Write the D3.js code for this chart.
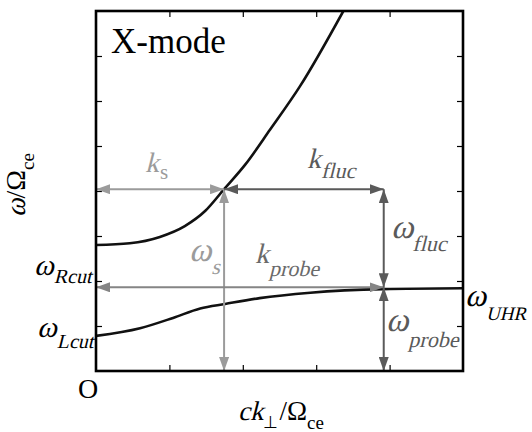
<!DOCTYPE html>
<html>
<head>
<meta charset="utf-8">
<script src="https://cdn.jsdelivr.net/npm/d3@7"></script>
<style>
  body { margin: 0; background: #fff; }
</style>
</head>
<body>
<div id="chart"></div>
<script>
const upperBranch = [[0, 2.80], [0.46, 2.84], [0.87, 2.98], [1.21, 3.22], [1.49, 3.56],
                     [1.745, 4.04], [2.03, 4.58], [2.37, 5.36], [2.78, 6.33], [3.37, 8.0]];
const lowerBranch = [[0, 0.78], [0.60, 0.95], [1.05, 1.18], [1.42, 1.39], [1.76, 1.49],
                     [2.23, 1.62], [2.92, 1.74], [3.91, 1.82], [5.0, 1.84]];
const xTicks = [1, 2, 3, 4];
const yTicks = [1, 2, 3, 4, 5, 6, 7];

// scattering point (k_s, ω_s) and probe point (k_probe, ω_probe)
const kS = 1.745, wS = 4.04;
const kProbe = 3.92, wProbe = 1.86;

const width = 532, height = 432;
const margin = {top: 11, right: 69, bottom: 61, left: 96};
const serif = '"Liberation Serif"';

const svg = d3.select("#chart")
    .append("svg")
    .attr("width", width)
    .attr("height", height);

const x = d3.scaleLinear().domain([0, 5]).range([margin.left, width - margin.right]);
const y = d3.scaleLinear().domain([0, 8]).range([height - margin.bottom, margin.top]);

// clip for the curves
svg.append("clipPath").attr("id", "plot")
    .append("rect")
    .attr("x", x(0)).attr("y", y(8))
    .attr("width", x(5) - x(0)).attr("height", y(0) - y(8));

// inward ticks on all four sides
const noDomain = g => g.select(".domain").remove();
svg.append("g").attr("transform", `translate(0,${y(0)})`)
    .call(d3.axisBottom(x).tickValues(xTicks).tickSize(-6).tickFormat("")).call(noDomain);
svg.append("g").attr("transform", `translate(0,${y(8)})`)
    .call(d3.axisTop(x).tickValues(xTicks).tickSize(-6).tickFormat("")).call(noDomain);
svg.append("g").attr("transform", `translate(${x(0)},0)`)
    .call(d3.axisLeft(y).tickValues(yTicks).tickSize(-6).tickFormat("")).call(noDomain);
svg.append("g").attr("transform", `translate(${x(5)},0)`)
    .call(d3.axisRight(y).tickValues(yTicks).tickSize(-6).tickFormat("")).call(noDomain);
svg.selectAll(".tick line").attr("stroke", "#000").attr("stroke-width", 1.2);

// curves
const line = d3.line()
    .x(d => x(d[0]))
    .y(d => y(d[1]))
    .curve(d3.curveMonotoneX);

svg.append("g").attr("clip-path", "url(#plot)")
    .selectAll("path")
    .data([upperBranch, lowerBranch])
    .join("path")
    .attr("d", line)
    .attr("fill", "none")
    .attr("stroke", "#111")
    .attr("stroke-width", 2.6);

// arrows
const arrows = [
    {from: [0, wS], to: [kS, wS], color: "#9b9b9b"},          // k_s
    {from: [kS, wS], to: [kS, 0], color: "#9b9b9b"},          // ω_s
    {from: [0, wProbe], to: [kProbe, wProbe], color: "#858585"}, // k_probe
    {from: [kS, wS], to: [kProbe, wS], color: "#5a5a5a"},     // k_fluc
    {from: [kProbe, wS], to: [kProbe, wProbe], color: "#5a5a5a"}, // ω_fluc
    {from: [kProbe, wProbe], to: [kProbe, 0], color: "#5a5a5a"}   // ω_probe
];

const defs = svg.append("defs");
const colors = Array.from(new Set(arrows.map(d => d.color)));
defs.selectAll("marker")
    .data(colors)
    .join("marker")
    .attr("id", (d, i) => "head" + i)
    .attr("viewBox", "0 0 14 10")
    .attr("refX", 14)
    .attr("refY", 5)
    .attr("markerWidth", 14)
    .attr("markerHeight", 10)
    .attr("markerUnits", "userSpaceOnUse")
    .attr("orient", "auto-start-reverse")
    .append("path")
    .attr("d", "M0,0L14,5L0,10Z")
    .attr("fill", d => d);

svg.append("g")
    .selectAll("line")
    .data(arrows)
    .join("line")
    .attr("x1", d => x(d.from[0]))
    .attr("y1", d => y(d.from[1]))
    .attr("x2", d => x(d.to[0]))
    .attr("y2", d => y(d.to[1]))
    .attr("stroke", d => d.color)
    .attr("stroke-width", 2)
    .attr("marker-start", d => `url(#head${colors.indexOf(d.color)})`)
    .attr("marker-end", d => `url(#head${colors.indexOf(d.color)})`);

// frame
svg.append("rect")
    .attr("x", x(0)).attr("y", y(8))
    .attr("width", x(5) - x(0)).attr("height", y(0) - y(8))
    .attr("fill", "none")
    .attr("stroke", "#000")
    .attr("stroke-width", 2.6);

// text made of pieces; italic pieces are slanted by hand since the
// serif face has no italic installed
function rich(parent, px, py, parts, color, rotate) {
    const g = parent.append("g")
        .attr("transform", `translate(${px},${py})` + (rotate ? ` rotate(${rotate})` : ""))
        .attr("fill", color || "#000");
    let cx = 0;
    parts.forEach(p => {
        cx += p.dx || 0;
        const t = g.append("text")
            .attr("font-size", p.size)
            .style("font-family", serif)
            .attr("transform", `translate(${cx},${p.dy || 0})` + (p.it ? " skewX(-14)" : ""))
            .text(p.text);
        cx += t.node().getComputedTextLength();
    });
    return g;
}

const grey1 = "#9b9b9b", grey2 = "#5a5a5a", grey3 = "#6a6a6a";
rich(svg, 145, 172, [{text: "k", size: 28, it: true}, {text: "s", size: 21, dy: 7, dx: 1}], grey1);
rich(svg, 307, 168, [{text: "k", size: 28, it: true}, {text: "fluc", size: 22, dy: 10, dx: 0, it: true}], grey2);
rich(svg, 189, 261, [{text: "ω", size: 34, it: true}, {text: "s", size: 22, dy: 13, it: true}], grey1);
rich(svg, 255, 263, [{text: "k", size: 28, it: true}, {text: "probe", size: 22, dy: 13, it: true}], grey3);
rich(svg, 391, 238, [{text: "ω", size: 34, it: true}, {text: "fluc", size: 22, dy: 13, dx: -1, it: true}], grey2);
rich(svg, 386, 331, [{text: "ω", size: 34, it: true}, {text: "probe", size: 22, dy: 16, dx: 0, it: true}], grey2);
rich(svg, 34, 275, [{text: "ω", size: 30, it: true}, {text: "Rcut", size: 20, dy: 8, it: true}]);
rich(svg, 37, 337, [{text: "ω", size: 30, it: true}, {text: "Lcut", size: 20, dy: 11, it: true}]);
rich(svg, 465, 306, [{text: "ω", size: 32, it: true}, {text: "UHR", size: 19, dy: 14, it: true}]);

// title inside the frame
rich(svg, 111, 53, [{text: "X-mode", size: 35}]);

// origin
rich(svg, 78, 398, [{text: "O", size: 28}]);

// axis titles
rich(svg, 238, 420, [
    {text: "ck", size: 27, it: true},
    {text: "⊥", size: 17, dy: 8},
    {text: "/Ω", size: 27, dx: 1},
    {text: "ce", size: 19, dy: 9}
]);
rich(svg, 25, 217, [
    {text: "ω", size: 28, it: true},
    {text: "/Ω", size: 28},
    {text: "ce", size: 19, dy: 9}
], "#000", -90);
</script>
</body>
</html>
